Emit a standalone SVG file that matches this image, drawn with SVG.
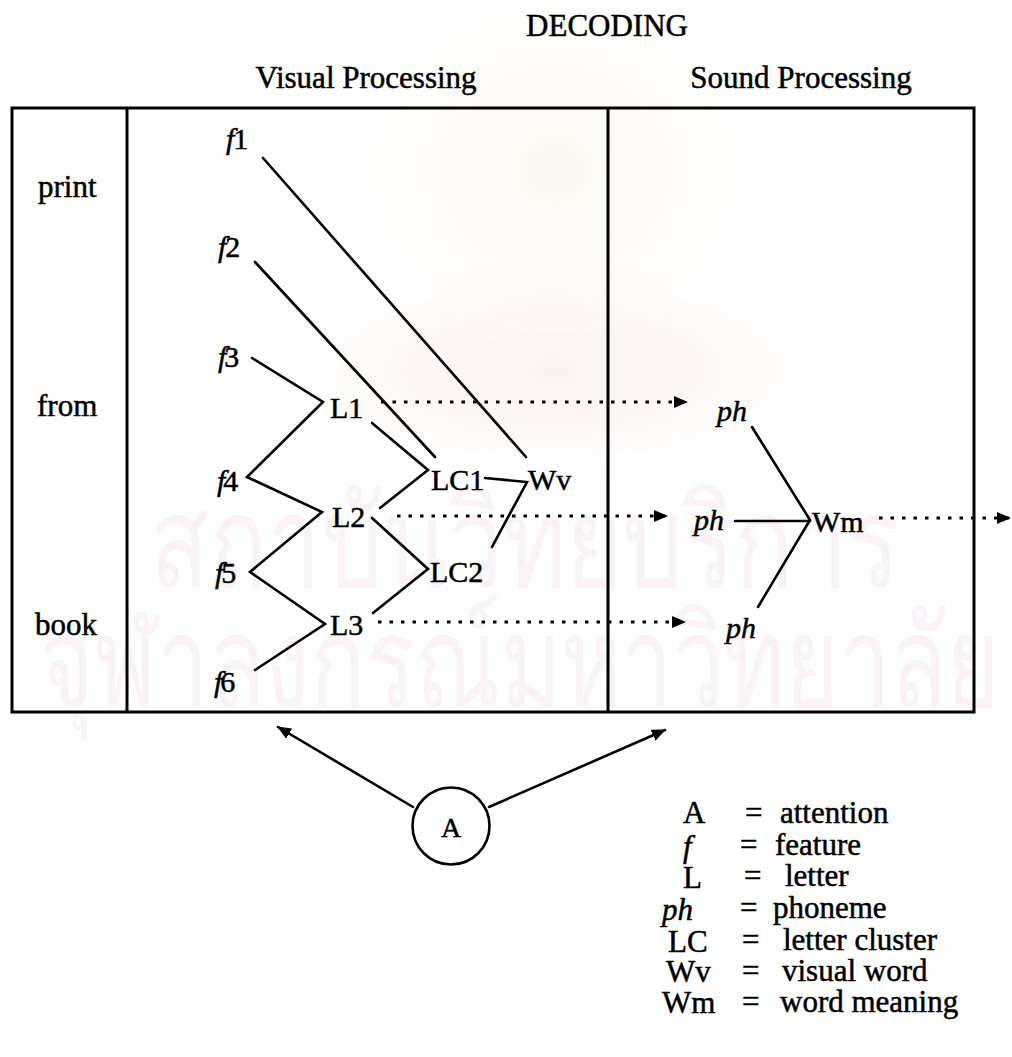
<svg xmlns="http://www.w3.org/2000/svg" width="1012" height="1057" viewBox="0 0 1012 1057" font-family="'Liberation Serif', 'DejaVu Serif', serif">
  <style>
    text { font-family: 'Liberation Serif', 'DejaVu Serif', serif; }
    .t { font-size: 31px; fill: #000; stroke: #000; stroke-width: 0.5; }
    .n { font-size: 30px; }
    .i { font-style: italic; }
    .mid { text-anchor: middle; }
    text.wm { font-family: 'Noto Sans', 'DejaVu Sans', sans-serif; font-size: 128px; fill: #faf2f7; }
    .box { fill: none; stroke: #000; stroke-width: 3; }
    .ln { fill: none; stroke: #000; stroke-width: 2.6; stroke-linecap: round; stroke-linejoin: miter; }
    .dot { fill: none; stroke: #000; stroke-width: 2.8; stroke-dasharray: 3.5 8; }
  </style>
  <defs>
    <marker id="head" viewBox="0 0 14 12" refX="13" refY="6" markerWidth="14" markerHeight="12" markerUnits="userSpaceOnUse" orient="auto">
      <path d="M0,0 L14,6 L0,12 z" fill="#000"/>
    </marker>
    <radialGradient id="glow" cx="0.5" cy="0.5" r="0.5">
      <stop offset="0" stop-color="#fcf1f1"/>
      <stop offset="1" stop-color="#fcf1f1" stop-opacity="0"/>
    </radialGradient>
    <radialGradient id="glowY" cx="0.5" cy="0.5" r="0.5">
      <stop offset="0" stop-color="#fcf9ee"/>
      <stop offset="1" stop-color="#fcf9ee" stop-opacity="0"/>
    </radialGradient>
  </defs>

  <rect width="1012" height="1057" fill="#fff"/>

  <!-- soft tint behind the upper chart -->
  <g id="tint">
    <ellipse cx="555" cy="170" rx="190" ry="170" fill="url(#glowY)"/>
    <ellipse cx="555" cy="370" rx="290" ry="110" fill="url(#glow)"/>
  </g>

  <!-- background watermark lettering -->
  <g id="watermark">
    <text class="wm" x="150" y="587" textLength="750" lengthAdjust="spacingAndGlyphs">สถาบันวิทยบริการ</text>
    <text class="wm" x="40" y="707" textLength="960" lengthAdjust="spacingAndGlyphs">จุฬาลงกรณ์มหาวิทยาลัย</text>
  </g>

  <!-- titles -->
  <g id="titles">
    <text class="t mid" x="607" y="36">DECODING</text>
    <text class="t mid" x="366" y="88">Visual Processing</text>
    <text class="t mid" x="801" y="88">Sound Processing</text>
  </g>

  <!-- frame with its two column dividers -->
  <g id="frame">
    <rect class="box" x="12" y="108" width="962" height="604"/>
    <line class="box" x1="127" y1="108" x2="127" y2="712"/>
    <line class="box" x1="608" y1="108" x2="608" y2="712"/>
  </g>

  <!-- word labels of the first column -->
  <g id="words">
    <text class="t" x="38" y="197">print</text>
    <text class="t" x="37" y="416">from</text>
    <text class="t" x="35" y="635">book</text>
  </g>

  <!-- connectors -->
  <g id="connectors">
    <!-- feature / letter zigzag -->
    <polyline class="ln" points="252,358 323,402 247,477 322,512 250,572 325,624 255,670"/>
    <!-- long feature lines -->
    <line class="ln" x1="263" y1="158" x2="526" y2="457"/>
    <line class="ln" x1="255" y1="262" x2="435" y2="457"/>
    <!-- letters to letter clusters -->
    <polyline class="ln" points="372,423 428,470 380,508"/>
    <polyline class="ln" points="372,518 428,569 373,613"/>
    <!-- letter clusters to visual word -->
    <polyline class="ln" points="485,478 527,482 492,547"/>
    <!-- phonemes to word meaning -->
    <polyline class="ln" points="752,427 810,520 758,607"/>
    <line class="ln" x1="735" y1="521" x2="810" y2="521"/>
    <!-- dotted transfers -->
    <line class="dot" x1="381" y1="402" x2="687" y2="402" marker-end="url(#head)"/>
    <line class="dot" x1="397" y1="516" x2="667" y2="516" marker-end="url(#head)"/>
    <line class="dot" x1="378" y1="622" x2="685" y2="622" marker-end="url(#head)"/>
    <line class="dot" x1="879" y1="518" x2="1010" y2="518" marker-end="url(#head)"/>
    <!-- attention arrows -->
    <line class="ln" x1="413" y1="807" x2="278" y2="727" marker-end="url(#head)"/>
    <line class="ln" x1="489" y1="807" x2="665" y2="730" marker-end="url(#head)"/>
  </g>

  <!-- features -->
  <g id="f1"><text class="t n" x="226" y="149"><tspan class="i">f</tspan><tspan dx="-1">1</tspan></text></g>
  <g id="f2"><text class="t n" x="218" y="257"><tspan class="i">f</tspan><tspan dx="-1">2</tspan></text></g>
  <g id="f3"><text class="t n" x="218" y="367"><tspan class="i">f</tspan><tspan dx="-2">3</tspan></text></g>
  <g id="f4"><text class="t n" x="217" y="491"><tspan class="i">f</tspan><tspan dx="-2">4</tspan></text></g>
  <g id="f5"><text class="t n" x="215" y="583"><tspan class="i">f</tspan><tspan dx="-2">5</tspan></text></g>
  <g id="f6"><text class="t n" x="214" y="692"><tspan class="i">f</tspan><tspan dx="-2">6</tspan></text></g>

  <!-- letters -->
  <g id="L1"><text class="t n" x="330" y="418">L1</text></g>
  <g id="L2"><text class="t n" x="332" y="527">L2</text></g>
  <g id="L3"><text class="t n" x="330" y="635">L3</text></g>

  <!-- letter clusters -->
  <g id="LC1"><text class="t n" x="431" y="490">LC1</text></g>
  <g id="LC2"><text class="t n" x="430" y="582">LC2</text></g>

  <!-- visual word -->
  <g id="Wv"><text class="t n" x="528" y="490">Wv</text></g>

  <!-- phonemes -->
  <g id="ph1"><text class="t n i" x="717" y="421">ph</text></g>
  <g id="ph2"><text class="t n i" x="694" y="530">ph</text></g>
  <g id="ph3"><text class="t n i" x="726" y="638">ph</text></g>

  <!-- word meaning -->
  <g id="Wm"><text class="t n" x="812" y="532">Wm</text></g>

  <!-- attention -->
  <g id="A">
    <circle cx="451" cy="826" r="38.5" fill="none" stroke="#000" stroke-width="2.6"/>
    <text class="t mid" x="451" y="837" style="font-size:28px">A</text>
  </g>

  <!-- key -->
  <g id="legend">
    <text class="t" x="683" y="823">A</text>
    <text class="t i" x="683" y="857">f</text>
    <text class="t" x="683" y="888">L</text>
    <text class="t i" x="662" y="920">ph</text>
    <text class="t" x="668" y="952">LC</text>
    <text class="t" x="666" y="982">Wv</text>
    <text class="t" x="662" y="1013">Wm</text>

    <text class="t" x="745" y="823">=</text>
    <text class="t" x="740" y="855">=</text>
    <text class="t" x="744" y="886">=</text>
    <text class="t" x="740" y="918">=</text>
    <text class="t" x="742" y="950">=</text>
    <text class="t" x="742" y="981">=</text>
    <text class="t" x="742" y="1012">=</text>

    <text class="t" x="780" y="823">attention</text>
    <text class="t" x="775" y="855">feature</text>
    <text class="t" x="785" y="886">letter</text>
    <text class="t" x="773" y="918">phoneme</text>
    <text class="t" x="783" y="950">letter cluster</text>
    <text class="t" x="782" y="981">visual word</text>
    <text class="t" x="780" y="1012">word meaning</text>
  </g>
</svg>
